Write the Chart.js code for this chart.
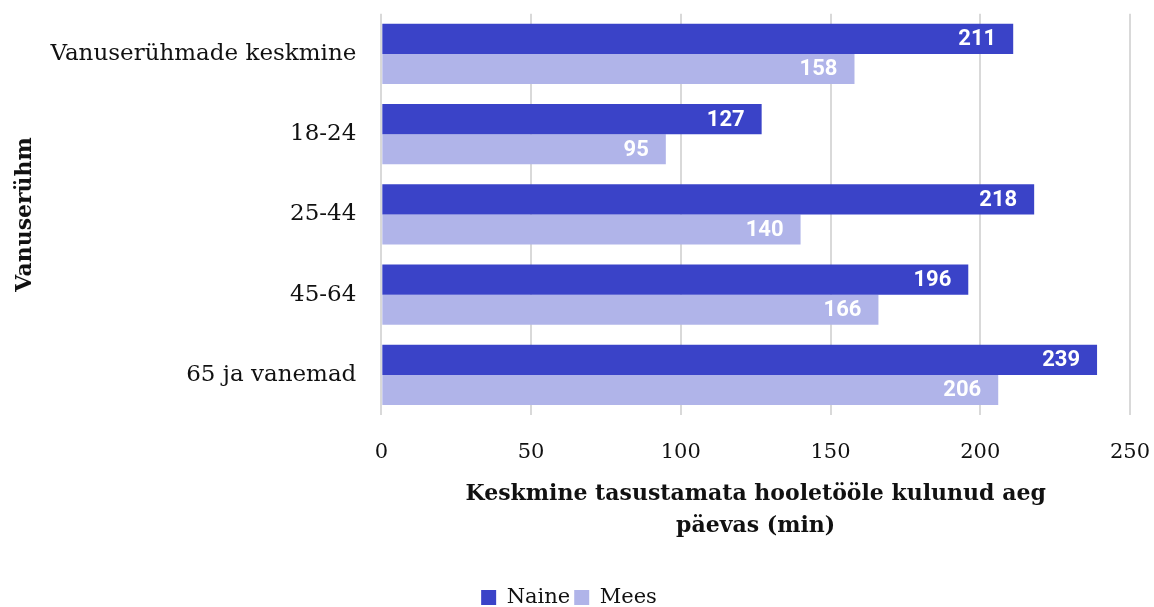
<!DOCTYPE html>
<html>
<head>
<meta charset="utf-8">
<script src="https://cdn.jsdelivr.net/npm/chart.js@4"></script>
<style>
  html, body { margin: 0; padding: 0; background: #fff; }
  #wrap { width: 1154px; height: 607px; }
</style>
</head>
<body>
<div id="wrap"><canvas id="chart"></canvas></div>
<script>
// Andmed
const categories = ["Vanuserühmade keskmine", "18-24", "25-44", "45-64", "65 ja vanemad"]
const naine = [211, 127, 218, 196, 239]
const mees = [158, 95, 140, 166, 206]
const xTicks = [0, 50, 100, 150, 200, 250]

const serif = "'DejaVu Serif', serif"

// Väärtused tulpade sisse
const barLabels = {
  id: "barLabels",
  afterDatasetsDraw(chart) {
    const ctx = chart.ctx
    ctx.save()
    ctx.font = "bold 22px Roboto, sans-serif"
    ctx.fillStyle = "#ffffff"
    ctx.textAlign = "right"
    ctx.textBaseline = "middle"
    chart.data.datasets.forEach((ds, i) => {
      chart.getDatasetMeta(i).data.forEach((bar, j) => {
        ctx.fillText(ds.data[j], bar.x - 17, bar.y + 1)
      })
    })
    ctx.restore()
  },
}

new Chart(document.getElementById("chart"), {
  type: "bar",
  data: {
    labels: categories,
    datasets: [
      { label: "Naine", data: naine, backgroundColor: "#3a43c8", categoryPercentage: 0.75, barPercentage: 1.0 },
      { label: "Mees", data: mees, backgroundColor: "#b0b4e9", categoryPercentage: 0.75, barPercentage: 1.0 },
    ],
  },
  options: {
    indexAxis: "y",
    responsive: true,
    maintainAspectRatio: false,
    animation: false,
    layout: { padding: { top: 2, right: 24, left: 8, bottom: -11 } },
    plugins: {
      legend: {
        position: "bottom",
        labels: {
          font: { family: serif, size: 21 },
          color: "#111",
          boxWidth: 15,
          boxHeight: 15,
          padding: 4,
        },
      },
      tooltip: { enabled: false },
    },
    scales: {
      x: {
        min: 0,
        max: 250,
        afterBuildTicks: (axis) => { axis.ticks = xTicks.map((v) => ({ value: v })) },
        grid: { color: "#d9d9d9", lineWidth: 2, drawTicks: true, tickLength: 25, tickColor: "rgba(0,0,0,0)" },
        border: { display: false },
        ticks: { font: { family: serif, size: 21 }, color: "#111", padding: 0 },
        title: {
          display: true,
          text: ["Keskmine tasustamata hooletööle kulunud aeg", "päevas (min)"],
          font: { family: serif, size: 22, weight: "bold", lineHeight: 1.45 },
          color: "#111",
          padding: { top: 13, bottom: 41 },
        },
      },
      y: {
        grid: { display: false, drawTicks: true, tickLength: 25 },
        border: { display: false },
        ticks: { font: { family: serif, size: 23 }, color: "#111", padding: 0 },
        title: {
          display: true,
          text: "Vanuserühm",
          font: { family: serif, size: 22, weight: "bold" },
          color: "#111",
          padding: { top: 4, bottom: 12 },
        },
      },
    },
  },
  plugins: [barLabels],
})
</script>
</body>
</html>
